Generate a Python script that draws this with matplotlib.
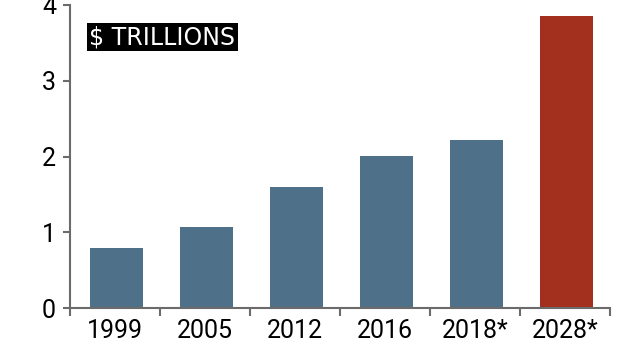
import matplotlib.pyplot as plt

plt.rcParams['font.family'] = ['Roboto', 'DejaVu Sans']

years = ["1999", "2005", "2012", "2016", "2018*", "2028*"]
values = [0.79, 1.07, 1.60, 2.01, 2.22, 3.85]
colors = ["#4e7189"] * 5 + ["#a32f1e"]

fig = plt.figure(figsize=(6.35, 3.57), dpi=100)
ax = fig.add_axes([70 / 635, 49 / 357, 540 / 635, 303 / 357])

x = list(range(len(years)))
ax.bar([i + 0.02 for i in x], values, width=0.59, color=colors)

ax.set_xlim(-0.5, len(years) - 0.5)
ax.set_ylim(0, 4)
ax.set_yticks([0, 1, 2, 3, 4])
ax.set_xticks(x)
ax.set_xticklabels(years)
ax.set_xticks([i - 0.5 for i in range(len(years) + 1)], minor=True)

for s in ["top", "right"]:
    ax.spines[s].set_visible(False)
for s in ["left", "bottom"]:
    ax.spines[s].set_color("#6b6b6b")
    ax.spines[s].set_linewidth(1.5)

ax.tick_params(axis="x", which="major", length=0, pad=8, labelsize=18)
ax.tick_params(axis="x", which="minor", length=6, width=1.5, color="#6b6b6b")
ax.tick_params(axis="y", length=5, width=1.5, color="#6b6b6b", pad=5, labelsize=18)

# label box in the corner
ax.text(0.036, 0.894, "$ TRILLIONS", transform=ax.transAxes, color="white",
        fontsize=17, family="DejaVu Sans", va="center", ha="left",
        bbox=dict(facecolor="black", edgecolor="none", boxstyle="square,pad=0.1"))

fig.savefig("out.png", dpi=100)
